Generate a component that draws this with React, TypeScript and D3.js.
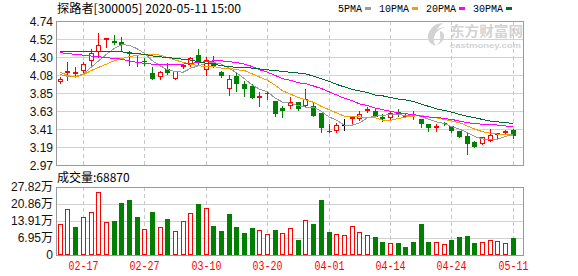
import React from "react";
import * as d3 from "d3";

// ---- quote header ----
const stockName = "探路者";
const stockCode = "300005";
const quoteTime = "2020-05-11 15:00";
const preClose = 3.98;

// ---- trading days ----
const dates = [
  "02-12", "02-13", "02-14", "02-17", "02-18", "02-19", "02-20", "02-21", "02-24", "02-25",
  "02-26", "02-27", "02-28", "03-02", "03-03", "03-04", "03-05", "03-06", "03-09", "03-10",
  "03-11", "03-12", "03-13", "03-16", "03-17", "03-18", "03-19", "03-20", "03-23", "03-24",
  "03-25", "03-26", "03-27", "03-30", "03-31", "04-01", "04-02", "04-03", "04-07", "04-08",
  "04-09", "04-10", "04-13", "04-14", "04-15", "04-16", "04-17", "04-20", "04-21", "04-22",
  "04-23", "04-24", "04-27", "04-28", "04-29", "04-30", "05-06", "05-07", "05-08", "05-11",
];

// ---- daily OHLC ----
const opens = [
  3.99, 4.11, 4.10, 4.13, 4.25, 4.36, 4.52, 4.49, 4.48, 4.36,
  4.24, 4.25, 4.10, 4.05, 4.15, 4.03, 4.17, 4.20, 4.32, 4.14,
  4.23, 4.11, 3.91, 4.07, 3.96, 3.94, 3.80, 3.86, 3.76, 3.67,
  3.70, 3.74, 3.70, 3.70, 3.61, 3.39, 3.39, 3.46, 3.54, 3.53,
  3.63, 3.63, 3.56, 3.55, 3.62, 3.58, 3.58, 3.54, 3.47, 3.43,
  3.49, 3.45, 3.39, 3.33, 3.25, 3.23, 3.26, 3.35, 3.36, 3.40,
];
const highs = [
  4.05, 4.23, 4.18, 4.24, 4.39, 4.59, 4.53, 4.57, 4.54, 4.37,
  4.31, 4.29, 4.17, 4.13, 4.22, 4.12, 4.21, 4.30, 4.40, 4.30,
  4.31, 4.13, 4.08, 4.10, 4.00, 3.96, 3.87, 3.87, 3.76, 3.69,
  3.81, 3.75, 3.90, 3.73, 3.61, 3.47, 3.49, 3.54, 3.56, 3.63,
  3.68, 3.67, 3.60, 3.62, 3.66, 3.60, 3.63, 3.54, 3.47, 3.47,
  3.50, 3.45, 3.39, 3.37, 3.27, 3.32, 3.41, 3.36, 3.40, 3.41,
];
const lows = [
  3.98, 4.02, 4.06, 4.09, 4.20, 4.30, 4.42, 4.46, 4.38, 4.20,
  4.19, 4.20, 4.03, 4.03, 4.09, 4.03, 4.16, 4.19, 4.20, 4.08,
  4.18, 4.05, 3.83, 3.88, 3.82, 3.79, 3.69, 3.78, 3.57, 3.56,
  3.67, 3.64, 3.69, 3.57, 3.38, 3.37, 3.38, 3.40, 3.48, 3.52,
  3.62, 3.56, 3.51, 3.54, 3.57, 3.57, 3.54, 3.44, 3.39, 3.39,
  3.46, 3.38, 3.31, 3.11, 3.19, 3.23, 3.26, 3.30, 3.35, 3.30,
];
const closes = [
  4.03, 4.13, 4.11, 4.21, 4.35, 4.44, 4.53, 4.47, 4.44, 4.33,
  4.22, 4.24, 4.03, 4.11, 4.10, 4.12, 4.20, 4.28, 4.24, 4.26,
  4.19, 4.06, 4.03, 3.96, 3.91, 3.79, 3.82, 3.85, 3.60, 3.63,
  3.74, 3.66, 3.78, 3.57, 3.42, 3.38, 3.46, 3.46, 3.56, 3.60,
  3.66, 3.56, 3.53, 3.61, 3.60, 3.59, 3.57, 3.47, 3.43, 3.45,
  3.47, 3.39, 3.32, 3.23, 3.19, 3.32, 3.34, 3.36, 3.39, 3.33,
];

// ---- volume (手) ----
const volumes = [
  127000, 186500, 115000, 154000, 174000, 259500, 135000, 139000, 212000, 224000,
  155000, 107000, 176000, 115000, 147000, 99000, 139000, 172000, 208000, 191000,
  119000, 99000, 167000, 115000, 90000, 111000, 101000, 86000, 103000, 89000,
  109000, 62000, 142000, 127000, 224000, 94000, 86000, 81000, 118000, 94000,
  81000, 74000, 54000, 49000, 50000, 32000, 54000, 127000, 54000, 53000,
  46000, 62000, 74000, 78000, 50000, 54000, 62000, 58000, 50000, 68870,
];

// ---- moving averages ----
const ma5 = [
  4.08, 4.06, 4.06, 4.09, 4.17, 4.25, 4.33, 4.40, 4.45, 4.44,
  4.40, 4.34, 4.25, 4.19, 4.14, 4.12, 4.11, 4.16, 4.19, 4.22,
  4.23, 4.21, 4.16, 4.10, 4.03, 3.95, 3.90, 3.87, 3.79, 3.74,
  3.73, 3.70, 3.68, 3.68, 3.63, 3.56, 3.52, 3.46, 3.46, 3.49,
  3.55, 3.57, 3.58, 3.59, 3.59, 3.58, 3.58, 3.57, 3.53, 3.50,
  3.48, 3.44, 3.41, 3.37, 3.32, 3.29, 3.28, 3.29, 3.32, 3.35,
];
const ma10 = [
  4.11, 4.07, 4.05, 4.08, 4.13, 4.17, 4.21, 4.25, 4.28, 4.30,
  4.32, 4.33, 4.33, 4.32, 4.29, 4.26, 4.23, 4.21, 4.19, 4.18,
  4.18, 4.16, 4.16, 4.14, 4.13, 4.09, 4.05, 4.01, 3.95, 3.88,
  3.84, 3.80, 3.77, 3.74, 3.69, 3.65, 3.61, 3.57, 3.57, 3.56,
  3.56, 3.55, 3.52, 3.52, 3.54, 3.56, 3.57, 3.58, 3.56, 3.55,
  3.53, 3.51, 3.49, 3.45, 3.41, 3.38, 3.36, 3.35, 3.35, 3.33,
];
const ma20 = [
  4.35, 4.34, 4.33, 4.32, 4.31, 4.30, 4.29, 4.28, 4.27, 4.25,
  4.23, 4.22, 4.21, 4.21, 4.21, 4.21, 4.21, 4.22, 4.23, 4.24,
  4.25, 4.25, 4.24, 4.23, 4.21, 4.18, 4.14, 4.11, 4.07, 4.03,
  4.01, 3.98, 3.97, 3.94, 3.91, 3.87, 3.83, 3.79, 3.76, 3.72,
  3.70, 3.67, 3.65, 3.63, 3.61, 3.60, 3.59, 3.57, 3.56, 3.56,
  3.54, 3.53, 3.51, 3.49, 3.48, 3.47, 3.47, 3.46, 3.45, 3.44,
];
const ma30 = [
  4.36, 4.36, 4.36, 4.36, 4.36, 4.36, 4.36, 4.36, 4.36, 4.35,
  4.34, 4.33, 4.31, 4.30, 4.29, 4.28, 4.27, 4.26, 4.24, 4.22,
  4.21, 4.19, 4.18, 4.17, 4.17, 4.16, 4.15, 4.14, 4.13, 4.12,
  4.11, 4.10, 4.09, 4.06, 4.03, 4.00, 3.96, 3.93, 3.90, 3.88,
  3.86, 3.83, 3.82, 3.80, 3.78, 3.77, 3.75, 3.72, 3.69, 3.66,
  3.64, 3.62, 3.59, 3.57, 3.55, 3.53, 3.51, 3.50, 3.49, 3.48,
];

// ---- axis labels ----
const priceTickLabels = ["4.74", "4.52", "4.30", "4.08", "3.85", "3.63", "3.41", "3.19", "2.97"];
const volumeTickLabels = ["27.82万", "20.86万", "13.91万", "6.95万", "0"];
const dateTickLabels = ["02-17", "02-27", "03-10", "03-20", "04-01", "04-14", "04-24", "05-11"];
const maLabels = ["5PMA", "10PMA", "20PMA", "30PMA"];

const priceMin = 2.97;
const priceMax = 4.74;
const volumeMax = 278200;

const COLORS = {
  up: "#ff0000",
  down: "#008000",
  flat: "#000000",
  ma: ["#9a9a9a", "#f4a100", "#ff00ff", "#006b35"],
  frame: "#9a9a9a",
  grid: "#d2d2d2",
  dash: "#c8c8c8",
  watermark: "#d3d3d3",
};

const W = 578;
const H = 276;
const L = 56;
const R = 523;
const P_TOP = 21;
const P_BOT = 165;
const V_TOP = 187;
const V_BOT = 255;

const AXIS_FONT = "'Liberation Sans', Arial, sans-serif";
const CJK_FONT = "'Noto Sans CJK SC', 'Liberation Sans', sans-serif";
const MONO_FONT = "'Liberation Mono', 'DejaVu Sans Mono', monospace";

export default function App() {
  const x = d3.scalePoint<string>().domain(dates).range([60.3, 513.3]);
  const y = d3.scaleLinear().domain([priceMin, priceMax]).range([P_BOT, P_TOP]);
  const vy = d3.scaleLinear().domain([0, volumeMax]).range([V_BOT, V_TOP]);

  const nP = priceTickLabels.length;
  const priceTickVals = priceTickLabels.map((_, k) => priceMax - (k * (priceMax - priceMin)) / (nP - 1));
  const nV = volumeTickLabels.length;
  const volTickVals = volumeTickLabels.map((_, k) => volumeMax - (k * volumeMax) / (nV - 1));

  const px = (i: number) => Math.floor(x(dates[i]) as number);

  const maSeries = [ma5, ma10, ma20, ma30];
  const lineGen = d3
    .line<number>()
    .x((_, i) => x(dates[i]) as number)
    .y((v) => y(v));

  const candles = dates.map((d, i) => {
    const o = opens[i];
    const c = closes[i];
    const cx = px(i);
    const color = c > o ? COLORS.up : c < o ? COLORS.down : COLORS.flat;
    const top = Math.round(y(Math.max(o, c)));
    const bot = Math.round(y(Math.min(o, c)));
    const hi = Math.round(y(highs[i]));
    const lo = Math.round(y(lows[i]));
    let body: React.ReactNode;
    if (c > o) {
      body = (
        <rect
          x={cx - 2 + 0.5}
          y={top + 0.5}
          width={4}
          height={Math.max(bot - top - 1, 1)}
          fill="#fff"
          stroke={color}
          strokeWidth={1}
        />
      );
    } else if (c < o) {
      body = <rect x={cx - 2} y={top} width={5} height={Math.max(bot - top, 1)} fill={color} />;
    } else {
      body = <line x1={cx - 2} x2={cx + 3} y1={top + 0.5} y2={top + 0.5} stroke={color} />;
    }
    return (
      <g key={d}>
        <line x1={cx + 0.5} x2={cx + 0.5} y1={hi} y2={lo + 1} stroke={color} strokeWidth={1} />
        {body}
      </g>
    );
  });

  const volBars = dates.map((d, i) => {
    const prev = i === 0 ? preClose : closes[i - 1];
    const up = closes[i] >= prev;
    const cx = px(i);
    const top = Math.round(vy(volumes[i]));
    return up ? (
      <rect
        key={d}
        x={cx - 2 + 0.5}
        y={top + 0.5}
        width={4}
        height={V_BOT - top - 1}
        fill="#fff"
        stroke={COLORS.up}
        strokeWidth={1}
      />
    ) : (
      <rect key={d} x={cx - 2} y={top} width={5} height={V_BOT - top} fill={COLORS.down} />
    );
  });

  // legend layout: label, gap, swatch, gap
  let lx = 338;
  const legend = maLabels.map((lab, k) => {
    const tw = lab.length * 6;
    const item = (
      <g key={lab}>
        <text
          x={lx}
          y={12}
          fontFamily={MONO_FONT}
          fontSize={11}
          textLength={tw}
          lengthAdjust="spacingAndGlyphs"
          fill="#000"
        >
          {lab}
        </text>
        <rect x={lx + tw + 3} y={7} width={6} height={3} fill={COLORS.ma[k]} />
      </g>
    );
    lx += tw + 3 + 6 + 8;
    return item;
  });

  const lastVolume = volumes[volumes.length - 1];

  return (
    <svg width={W} height={H} style={{ position: "absolute", left: 0, top: 0, background: "#fff" }}>
      <rect x={0} y={0} width={W} height={H} fill="#fff" />

      {/* header */}
      <text x={57} y={12.5} fontFamily={CJK_FONT} fontSize={12} fill="#000" textLength={184} lengthAdjust="spacingAndGlyphs">
        {`${stockName}[${stockCode}] ${quoteTime}`}
      </text>
      {legend}

      {/* watermark */}
      <g fill={COLORS.watermark}>
        <path d="M437 24 C431 27 427 33 428 39 C429 43 433 45 436 46 C433 42 433 37 436 33 C438 30 442 28 445 27 C442 27 439 28 437 30 C438 28 440 25 443 23 Z" />
        <path d="M440 31 C444 32 445 36 443 40 C441 43 438 45 436 46 C440 43 441 39 440 36 Z" />
        <text x={450} y={36} fontFamily={CJK_FONT} fontSize={13.5} fontWeight={700} textLength={73} lengthAdjust="spacingAndGlyphs">
          东方财富网
        </text>
        <text x={450} y={47.5} fontFamily={AXIS_FONT} fontSize={8} fontWeight={700} textLength={71} lengthAdjust="spacingAndGlyphs">
          eastmoney.com
        </text>
      </g>

      {/* panel grids and frames */}
      <g shapeRendering="crispEdges">
        {priceTickVals.slice(1, -1).map((v) => (
          <line key={v} x1={L} x2={R} y1={Math.round(y(v)) + 0.5} y2={Math.round(y(v)) + 0.5} stroke={COLORS.grid} />
        ))}
        {volTickVals.slice(1, -1).map((v) => (
          <line key={v} x1={L} x2={R} y1={Math.round(vy(v)) + 0.5} y2={Math.round(vy(v)) + 0.5} stroke={COLORS.grid} />
        ))}
        {dateTickLabels.map((d) => {
          const xx = Math.floor(x(d) as number) + 0.5;
          return (
            <g key={d}>
              <line x1={xx} x2={xx} y1={P_TOP} y2={P_BOT} stroke={COLORS.dash} strokeDasharray="4,3" />
              <line x1={xx} x2={xx} y1={V_TOP} y2={V_BOT} stroke={COLORS.dash} strokeDasharray="4,3" />
            </g>
          );
        })}
        <rect x={L + 0.5} y={P_TOP + 0.5} width={R - L} height={P_BOT - P_TOP} fill="none" stroke={COLORS.frame} />
        <rect x={L + 0.5} y={V_TOP + 0.5} width={R - L} height={V_BOT - V_TOP} fill="none" stroke={COLORS.frame} />
      </g>

      {/* candles */}
      <g shapeRendering="crispEdges">{candles}</g>

      {/* moving averages */}
      <g fill="none" strokeWidth={1} shapeRendering="crispEdges">
        {maSeries.map((s, k) => (
          <path key={maLabels[k]} d={lineGen(s) || ""} stroke={COLORS.ma[k]} />
        ))}
      </g>

      {/* volume */}
      <text x={57} y={181.5} fontFamily={CJK_FONT} fontSize={12} fill="#000">
        {`成交量:${lastVolume}`}
      </text>
      <g shapeRendering="crispEdges">{volBars}</g>

      {/* y axis labels */}
      <g fontFamily={AXIS_FONT} fontSize={12} fill="#111" textAnchor="end">
        {priceTickVals.map((v, k) => (
          <text key={priceTickLabels[k]} x={53} y={y(v) + 4.5}>
            {priceTickLabels[k]}
          </text>
        ))}
        {volTickVals.map((v, k) => (
          <text key={volumeTickLabels[k]} x={53} y={vy(v) + 4} fontFamily={`${AXIS_FONT}, 'Noto Sans CJK SC'`}>
            {volumeTickLabels[k]}
          </text>
        ))}
      </g>

      {/* date labels */}
      <g fontFamily={MONO_FONT} fontSize={12} fill="#ff0000" textAnchor="middle">
        {dateTickLabels.map((d) => (
          <text key={d} x={Math.floor(x(d) as number) + 0.5} y={270} textLength={30} lengthAdjust="spacingAndGlyphs">
            {d}
          </text>
        ))}
      </g>
    </svg>
  );
}
